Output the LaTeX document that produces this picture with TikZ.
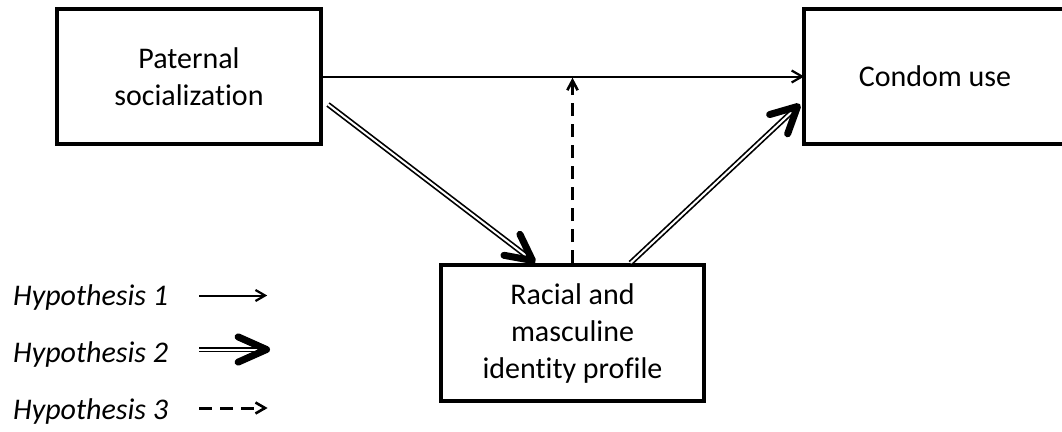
\documentclass[tikz,border=0pt]{standalone}
\usepackage{fontspec}
\setmainfont{Carlito}[Ligatures=NoCommon]
\usetikzlibrary{calc}
% open chevron head: style, tip, point the shaft comes from, arm length, half angle
\newcommand\headat[5]{\draw[#1] ($(#2)!#4!#5:(#3)$) -- (#2) -- ($(#2)!#4!-#5:(#3)$);}
\begin{document}
\begin{tikzpicture}[x=1pt,y=-1pt,
  box/.style={draw,line width=4pt,rectangle,align=center,inner sep=0pt,
              font=\fontsize{30}{37}\selectfont},
  thinline/.style={line width=2pt},
  dbl/.style={double,double distance=2pt,line width=1.7pt},
  bighead/.style={line width=7pt,line cap=round,line join=round},
  smallhead/.style={line width=2.2pt,line join=miter},
  dsh/.style={line width=3pt,dash pattern=on 13pt off 8pt},
  legend/.style={font=\fontsize{30}{37}\selectfont\itshape,inner sep=0pt,anchor=base west}]
\useasboundingbox (0,0) rectangle (1062,431);

% boxes
\node[box,minimum width=264pt,minimum height=135pt] (p) at (189,76.5) {Paternal\\socialization};
\node[box,minimum width=263pt,minimum height=136pt] (r) at (572.5,333) {Racial and\\masculine\\identity profile};
\node[box,minimum width=262pt,minimum height=135pt] (c) at (935,76.5) {Condom use};

% direct path (hypothesis 1)
\draw[thinline] (p.east) -- (c.west);
\headat{smallhead}{c.west}{p.east}{12pt}{30}

% moderation (hypothesis 3)
\coordinate (dtip) at ($(r.north |- p.east)+(0,4)$);
\draw[dsh] (r.north) -- (dtip);
\headat{smallhead,line width=2.6pt}{dtip}{r.north}{11pt}{28}

% mediation (hypothesis 2)
\coordinate (d1s) at ($(p.east)+(5,28)$);
\coordinate (d1e) at ($(r.north)+(-40,-2.5)$);
\draw[dbl,shorten >=4pt] (d1s) -- (d1e);
\headat{bighead}{d1e}{d1s}{29pt}{27}

\coordinate (d2s) at ($(r.north)+(58,0)$);
\coordinate (d2e) at ($(c.west)+(-4.5,30)$);
\draw[dbl,shorten >=4pt] (d2s) -- (d2e);
\headat{bighead}{d2e}{d2s}{29pt}{27}

% legend
\node[legend] (h1) at (13,305) {Hypothesis 1};
\node[legend] (h2) at (13,362) {Hypothesis 2};
\node[legend] (h3) at (13,419) {Hypothesis 3};

\coordinate (a1s) at (199,295.5);
\coordinate (a1e) at (265,295.5);
\draw[thinline] (a1s) -- (a1e);
\headat{smallhead}{a1e}{a1s}{11pt}{30}

\coordinate (a2s) at (199,349.5);
\coordinate (a2e) at (266.5,349.5);
\draw[dbl,shorten >=4pt] (a2s) -- (a2e);
\headat{bighead}{a2e}{a2s}{31pt}{24}

\coordinate (a3s) at (199,408);
\coordinate (a3e) at (265,408);
\draw[dsh] (a3s) -- (a3e);
\headat{smallhead,line width=2.6pt}{a3e}{a3s}{11pt}{30}
\end{tikzpicture}
\end{document}
